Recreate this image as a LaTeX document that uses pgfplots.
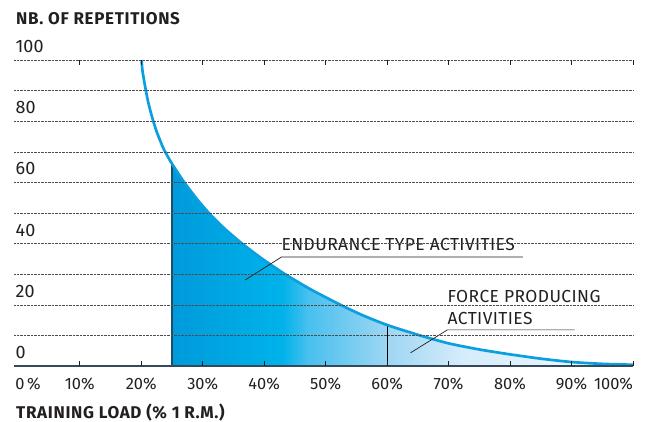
\documentclass[border=0pt]{standalone}
\usepackage{pgfplots}
\pgfplotsset{compat=1.18}
\usepackage{fontspec}
\setmainfont{Fira Sans}
\newfontfamily\annfont[LetterSpace=2.5]{Fira Sans}
\newfontfamily\titlefont[LetterSpace=4]{Fira Sans}
\definecolor{txt}{HTML}{231F20}
\definecolor{curvec}{HTML}{0AA0E0}
\definecolor{basec}{HTML}{34495A}
\definecolor{darkline}{HTML}{1D4F6A}
\definecolor{cA}{HTML}{009ADB}
\definecolor{cB}{HTML}{00B3EA}
\definecolor{cC}{HTML}{48C0EE}
\definecolor{cD}{HTML}{9ED6F3}
\definecolor{cE}{HTML}{D5ECFA}
\definecolor{cF}{HTML}{F4FAFE}
\begin{document}
\begin{tikzpicture}[x=1pt,y=1pt]
\useasboundingbox (0,0) rectangle (648,421);
\begin{axis}[
  at={(14pt,55pt)}, anchor=south west,
  scale only axis, width=619pt, height=306pt,
  xmin=-0.7, xmax=100, ymin=0, ymax=100,
  clip=false, axis on top,
  axis line style={draw=none},
  /pgf/number format/assume math mode=true,
  xtick={10,20,...,100},
  xticklabels={10\%,20\%,30\%,40\%,50\%,60\%,70\%,80\%,90\%,\makebox[0pt][r]{100\%}},
  extra x ticks={0},
  extra x tick labels={\makebox[0pt][l]{\hspace*{-3pt}0\,\%}},
  extra x tick style={major tick length=0pt},
  xtick align=inside, major tick length=5pt, minor tick length=0pt,
  xtick style={draw=txt, line width=0.8pt},
  xticklabel style={anchor=base, inner sep=0pt, yshift=-23pt, font=\fontsize{16.4}{18}\selectfont, text=txt},
  ytick={20,40,...,100}, minor ytick={10,30,50,70,90},
  extra y ticks={0}, extra y tick style={grid=none},
  ytick style={draw=none},
  ymajorgrids, yminorgrids,
  major grid style={densely dotted, txt!80, line width=0.55pt},
  minor grid style={densely dotted, txt!80, line width=0.55pt},
  yticklabel style={anchor=base west, inner sep=0pt, xshift=1.5pt, yshift=7.5pt, font=\fontsize{18}{20}\selectfont, text=txt},
]
% gradient fill segments
\addplot[draw=none, left color=cA, right color=cB] coordinates {
(25,66.1)(27,60)(29,54.7)(31,50)(33.5,45)(36.4,40)(39.7,35)(43.1,30.4)} \closedcycle;
\addplot[draw=none, left color=cB, right color=cC] coordinates {
(43,30.5)(45,28.1)(47.1,25.6)} \closedcycle;
\addplot[draw=none, left color=cC, right color=cD] coordinates {
(47,25.7)(49.8,22.4)(52.4,20)(56,16.6)(60.1,13.35)} \closedcycle;
\addplot[draw=none, left color=cD, right color=cE] coordinates {
(60,13.4)(62.5,11.7)(65,10.2)(67.5,8.7)(70,7.4)(72.1,6.6)} \closedcycle;
\addplot[draw=none, left color=cE, right color=cF] coordinates {
(72,6.6)(75,5.4)(80,3.8)(85,2.4)(90,1.3)(95,0.7)(100,0.4)} \closedcycle;
% vertical markers
\addplot[darkline, line width=1.3pt] coordinates {(25,0)(25,66.1)};
\addplot[black, line width=0.8pt] coordinates {(60,0)(60,13.4)};
% curve
\addplot[curvec, line width=2.7pt, smooth, tension=0.4] coordinates {
(20.05,100)(20.2,96.5)(20.6,91.7)(21.1,86.5)(21.7,81.8)(22.5,76.6)(23.5,71.6)(24,69.6)(25,66.1)(27,60)(29,54.7)(31,50)(33.5,45)(36.4,40)(39.7,35)(43.4,30)(47.6,25)(52.4,20)(56,16.6)(60,13.4)(65,10.2)(70,7.4)(75,5.4)(80,3.8)(85,2.4)(90,1.3)(95,0.7)(100,0.4)};
% baseline
\draw[basec, line width=1.5pt] (axis cs:-0.7,0) -- (axis cs:100,0);
% annotations
\draw[txt, line width=0.7pt] (axis cs:36.9,28.1) -- (axis cs:42.8,35.6) -- (axis cs:82.1,35.6);
\node[anchor=base west, inner sep=0pt, text=txt, font=\annfont\fontsize{17.4}{19}\selectfont] at (axis cs:42.8,37.7) {ENDURANCE TYPE ACTIVITIES};
\draw[txt, line width=0.7pt] (axis cs:63.8,4.3) -- (axis cs:69.8,11.8) -- (axis cs:90.5,11.8);
\node[anchor=base west, inner sep=0pt, text=txt, font=\annfont\fontsize{17.4}{19}\selectfont] at (axis cs:69.8,20.7) {FORCE PRODUCING};
\node[anchor=base west, inner sep=0pt, text=txt, font=\annfont\fontsize{17.4}{19}\selectfont] at (axis cs:69.8,13.7) {ACTIVITIES};
\end{axis}
\node[anchor=base west, inner sep=0pt, text=txt, font=\titlefont\bfseries\fontsize{17}{19}\selectfont] at (16,396) {NB. OF REPETITIONS};
\node[anchor=base west, inner sep=0pt, text=txt, font=\titlefont\bfseries\fontsize{17}{19}\selectfont] at (16,3) {TRAINING LOAD (\% 1 R.M.)};
\end{tikzpicture}
\end{document}
